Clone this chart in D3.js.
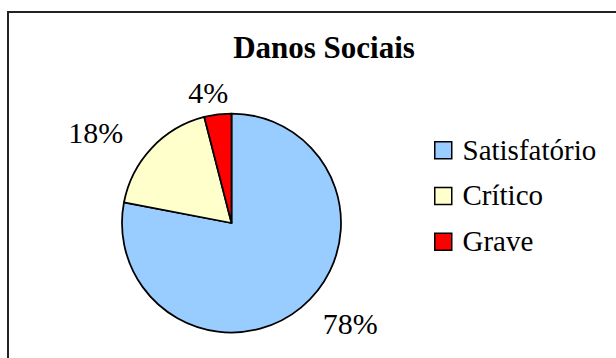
<!DOCTYPE html>
<html>
<head>
<meta charset="utf-8">
<script src="https://cdn.jsdelivr.net/npm/d3@7"></script>
<style>
  body { margin: 0; background: #fff; }
</style>
</head>
<body>
<div id="chart"></div>
<script>
// Data
var categories = ["Satisfatório", "Crítico", "Grave"];
var values = [78, 18, 4];
var colors = ["#99CCFF", "#FFFFCC", "#FF0000"];

var svgWidth = 616;
var svgHeight = 358;
var serif = "Liberation Serif";

var svg = d3.select("#chart")
  .append("svg")
  .attr("width", svgWidth)
  .attr("height", svgHeight);

// outer chart border (runs off the right and bottom edge)
svg.append("rect")
  .attr("x", 8)
  .attr("y", 12)
  .attr("width", 700)
  .attr("height", 400)
  .attr("fill", "none")
  .attr("stroke", "#222")
  .attr("stroke-width", 2);

// title
svg.append("text")
  .attr("x", 324)
  .attr("y", 58)
  .attr("text-anchor", "middle")
  .style("font-family", serif)
  .style("font-size", "31px")
  .style("font-weight", "bold")
  .text("Danos Sociais");

var data = categories.map((c, i) => ({ name: c, value: values[i], color: colors[i] }));
var total = d3.sum(values);

var cx = 231.5;
var cy = 223;
var radius = 109.5;

var pie = d3.pie()
  .sort(null)
  .value(d => d.value);

var arc = d3.arc()
  .innerRadius(0)
  .outerRadius(radius);

var arcs = pie(data);

var pieGroup = svg.append("g")
  .attr("transform", `translate(${cx}, ${cy})`);

pieGroup.selectAll("path")
  .data(arcs)
  .enter()
  .append("path")
  .attr("d", arc)
  .attr("fill", d => d.data.color)
  .attr("stroke", "#000")
  .attr("stroke-width", 1.75)
  .attr("stroke-linejoin", "round");

// percentage labels sit on an ellipse outside the pie
var labelRx = radius * 1.7;
var labelRy = radius * 1.2;

pieGroup.selectAll(".pct")
  .data(arcs)
  .enter()
  .append("text")
  .attr("class", "pct")
  .attr("x", d => Math.sin((d.startAngle + d.endAngle) / 2) * labelRx)
  .attr("y", d => -Math.cos((d.startAngle + d.endAngle) / 2) * labelRy)
  .attr("dy", "0.34em")
  .attr("text-anchor", "middle")
  .style("font-family", serif)
  .style("font-size", "30px")
  .text(d => Math.round(d.data.value / total * 100) + "%");

// legend
var legendY = d3.scalePoint()
  .domain(categories)
  .range([159.5, 251]);

var legend = svg.append("g");

var items = legend.selectAll("g")
  .data(data)
  .enter()
  .append("g")
  .attr("transform", d => `translate(434, ${legendY(d.name)})`);

items.append("rect")
  .attr("x", 0.75)
  .attr("y", -17.75)
  .attr("width", 17)
  .attr("height", 17)
  .attr("fill", d => d.color)
  .attr("stroke", "#000")
  .attr("stroke-width", 1.5);

items.append("text")
  .attr("x", 28.5)
  .attr("y", 0)
  .style("font-family", serif)
  .style("font-size", "29px")
  .text(d => d.name);
</script>
</body>
</html>
